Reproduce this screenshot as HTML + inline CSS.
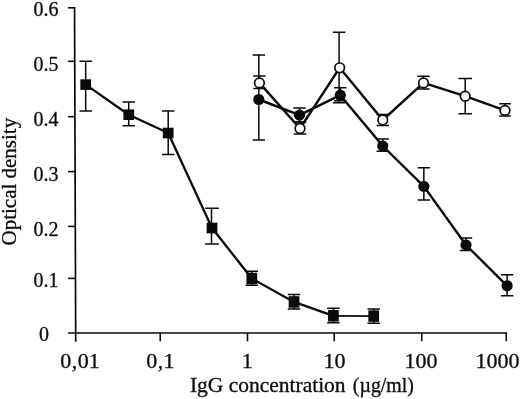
<!DOCTYPE html>
<html><head><meta charset="utf-8"><title>Chart</title>
<style>html,body{margin:0;padding:0;background:#fff}body{width:520px;height:399px;overflow:hidden}svg{display:block;filter:grayscale(1)}</style>
</head><body>
<svg width="520" height="399" viewBox="0 0 520 399">
<rect width="520" height="399" fill="#fff"/>
<g stroke="#0a0a0a" fill="none" stroke-linecap="butt">
<path d="M74.55 7.0 L75.7 341.7" stroke-width="1.7"/>
<path d="M68.1 333.0 H507.1" stroke-width="1.7"/>
<path d="M68.1 7.8 H75.14999999999999" stroke-width="1.6"/>
<path d="M68.1 61.3 H75.14999999999999" stroke-width="1.6"/>
<path d="M68.1 116.7 H75.14999999999999" stroke-width="1.6"/>
<path d="M68.1 171.6 H75.14999999999999" stroke-width="1.6"/>
<path d="M68.1 226.4 H75.14999999999999" stroke-width="1.6"/>
<path d="M68.1 278.4 H75.14999999999999" stroke-width="1.6"/>
<path d="M160.25 333.0 V341.3" stroke-width="1.6"/>
<path d="M247.5 333.0 V341.3" stroke-width="1.6"/>
<path d="M334.25 333.0 V341.3" stroke-width="1.6"/>
<path d="M421.75 333.0 V341.3" stroke-width="1.6"/>
<path d="M506.25 333.0 V341.3" stroke-width="1.6"/>
<path d="M85.7 61.3 V111.0 M79.5 61.3 H91.9 M79.5 111.0 H91.9" stroke-width="1.5"/>
<path d="M128.75 102.0 V125.8 M122.55 102.0 H134.95 M122.55 125.8 H134.95" stroke-width="1.5"/>
<path d="M168.2 111.0 V154.5 M162.0 111.0 H174.39999999999998 M162.0 154.5 H174.39999999999998" stroke-width="1.5"/>
<path d="M211.5 208.2 V243.9 M205.1 208.2 H218.9 M205.1 243.9 H218.9" stroke-width="1.5"/>
<path d="M251.8 271.3 V285.2 M245.60000000000002 271.3 H258.0 M245.60000000000002 285.2 H258.0" stroke-width="1.5"/>
<path d="M294.0 294.5 V309.0 M287.8 294.5 H300.2 M287.8 309.0 H300.2" stroke-width="1.5"/>
<path d="M333.4 308.3 V322.7 M327.2 308.3 H339.59999999999997 M327.2 322.7 H339.59999999999997" stroke-width="1.5"/>
<path d="M373.7 309.1 V323.3 M367.5 309.1 H379.9 M367.5 323.3 H379.9" stroke-width="1.5"/>
<path d="M258.8 55.1 V140.1 M252.60000000000002 55.1 H265.0 M252.60000000000002 140.1 H265.0" stroke-width="1.5"/>
<path d="M299.5 108.0 V122.0 M293.3 108.0 H305.7 M293.3 122.0 H305.7" stroke-width="1.5"/>
<path d="M340.3 87.7 V100.8 M334.1 87.7 H346.5 M334.1 100.8 H346.5" stroke-width="1.5"/>
<path d="M382.75 139.0 V151.25 M376.55 139.0 H388.95 M376.55 151.25 H388.95" stroke-width="1.5"/>
<path d="M423.85 167.8 V200.0 M417.65000000000003 167.8 H430.05 M417.65000000000003 200.0 H430.05" stroke-width="1.5"/>
<path d="M466.0 238.1 V250.6 M459.8 238.1 H472.2 M459.8 250.6 H472.2" stroke-width="1.5"/>
<path d="M507.1 274.8 V295.8 M500.90000000000003 274.8 H513.3000000000001 M500.90000000000003 295.8 H513.3000000000001" stroke-width="1.5"/>
<path d="M259.4 76.0 V88.5 M253.2 76.0 H265.59999999999997 M253.2 88.5 H265.59999999999997" stroke-width="1.5"/>
<path d="M300.0 121.9 V134.1 M293.8 121.9 H306.2 M293.8 134.1 H306.2" stroke-width="1.5"/>
<path d="M339.1 32.2 V102.7 M332.90000000000003 32.2 H345.3 M332.90000000000003 102.7 H345.3" stroke-width="1.5"/>
<path d="M382.75 114.4 V125.4 M376.55 114.4 H388.95 M376.55 125.4 H388.95" stroke-width="1.5"/>
<path d="M423.5 76.25 V89.0 M417.3 76.25 H429.7 M417.3 89.0 H429.7" stroke-width="1.5"/>
<path d="M465.2 78.4 V113.8 M458.4 78.4 H472.0 M458.4 113.8 H472.0" stroke-width="1.5"/>
<path d="M505.0 103.75 V116.0 M499.3 103.75 H510.7 M499.3 116.0 H510.7" stroke-width="1.5"/>
<path d="M85.7 84.6 L128.75 114.7 L168.2 133.0 L212.0 228.0 L251.8 278.5 L294.0 301.95 L333.4 315.8" stroke-width="2.3" stroke-linejoin="round"/>
<path d="M258.8 99.5 L299.5 115.1 L340.3 95.2 L382.75 146.0 L423.85 186.4 L466.0 245.0 L507.1 285.8" stroke-width="2.45" stroke-linejoin="round"/>
<path d="M259.4 82.9 L300.0 128.5 L339.65 67.8 L382.75 120.0 L423.5 82.9 L465.2 96.2 L505.0 110.4" stroke-width="2.45" stroke-linejoin="round"/>
<path d="M333.4 315.8 L373.7 316.1" stroke-width="1.8"/>
</g>
<rect x="80.35000000000001" y="79.3" width="10.7" height="10.6" fill="#0a0a0a"/>
<rect x="123.4" y="109.4" width="10.7" height="10.6" fill="#0a0a0a"/>
<rect x="162.85" y="127.7" width="10.7" height="10.6" fill="#0a0a0a"/>
<rect x="206.65" y="222.7" width="10.7" height="10.6" fill="#0a0a0a"/>
<rect x="246.45000000000002" y="272.75" width="10.7" height="11.5" fill="#0a0a0a"/>
<rect x="288.65" y="296.2" width="10.7" height="11.5" fill="#0a0a0a"/>
<rect x="328.04999999999995" y="310.05" width="10.7" height="11.5" fill="#0a0a0a"/>
<rect x="368.34999999999997" y="310.35" width="10.7" height="11.5" fill="#0a0a0a"/>
<circle cx="258.8" cy="99.5" r="5.6" fill="#0a0a0a"/>
<circle cx="299.5" cy="115.1" r="5.6" fill="#0a0a0a"/>
<circle cx="340.3" cy="95.2" r="5.6" fill="#0a0a0a"/>
<circle cx="382.75" cy="146.0" r="5.6" fill="#0a0a0a"/>
<circle cx="423.85" cy="186.4" r="5.6" fill="#0a0a0a"/>
<circle cx="466.0" cy="245.0" r="5.6" fill="#0a0a0a"/>
<circle cx="507.1" cy="285.8" r="5.6" fill="#0a0a0a"/>
<circle cx="259.4" cy="82.9" r="4.8" fill="#fff" stroke="#0a0a0a" stroke-width="1.7"/>
<circle cx="300.0" cy="128.5" r="4.8" fill="#fff" stroke="#0a0a0a" stroke-width="1.7"/>
<circle cx="339.65" cy="67.8" r="4.8" fill="#fff" stroke="#0a0a0a" stroke-width="1.7"/>
<circle cx="382.75" cy="120.0" r="4.8" fill="#fff" stroke="#0a0a0a" stroke-width="1.7"/>
<circle cx="423.5" cy="82.9" r="4.8" fill="#fff" stroke="#0a0a0a" stroke-width="1.7"/>
<circle cx="465.2" cy="96.2" r="4.8" fill="#fff" stroke="#0a0a0a" stroke-width="1.7"/>
<circle cx="505.0" cy="110.4" r="4.8" fill="#fff" stroke="#0a0a0a" stroke-width="1.7"/>
<g font-family="'Liberation Serif', serif" font-size="20" fill="#0c0c0c" stroke="#0c0c0c" stroke-width="0.3">
<text x="33.4" y="15.9">0.6</text>
<text x="33.4" y="71.0">0.5</text>
<text x="33.4" y="126.2">0.4</text>
<text x="33.4" y="181.0">0.3</text>
<text x="33.4" y="235.6">0.2</text>
<text x="33.4" y="287.2">0.1</text>
<text x="38.9" y="341.1">0</text>
<text transform="translate(60.2 368.1) scale(1.10 1)">0<tspan dx="0.5">,</tspan><tspan dx="0.5">01</tspan></text>
<text transform="translate(146.2 368.1) scale(1.10 1)">0<tspan dx="0.4">,</tspan><tspan dx="0.4">1</tspan></text>
<text transform="translate(241.8 368.1) scale(1.10 1)">1</text>
<text transform="translate(323.5 368.1) scale(1.10 1)">10</text>
<text transform="translate(404.5 368.1) scale(1.10 1)">100</text>
<text transform="translate(475.4 368.1) scale(1.10 1)">1000</text>
<text transform="translate(189.9 391.6) scale(1.075 1)">IgG concentration</text>
<text transform="translate(352.8 391.6) scale(0.995 1)">(µg/ml)</text>
<text transform="translate(16.0 245.5) rotate(-90) scale(1.05 1)">Optical density</text>
</g>
</svg>
</body></html>
